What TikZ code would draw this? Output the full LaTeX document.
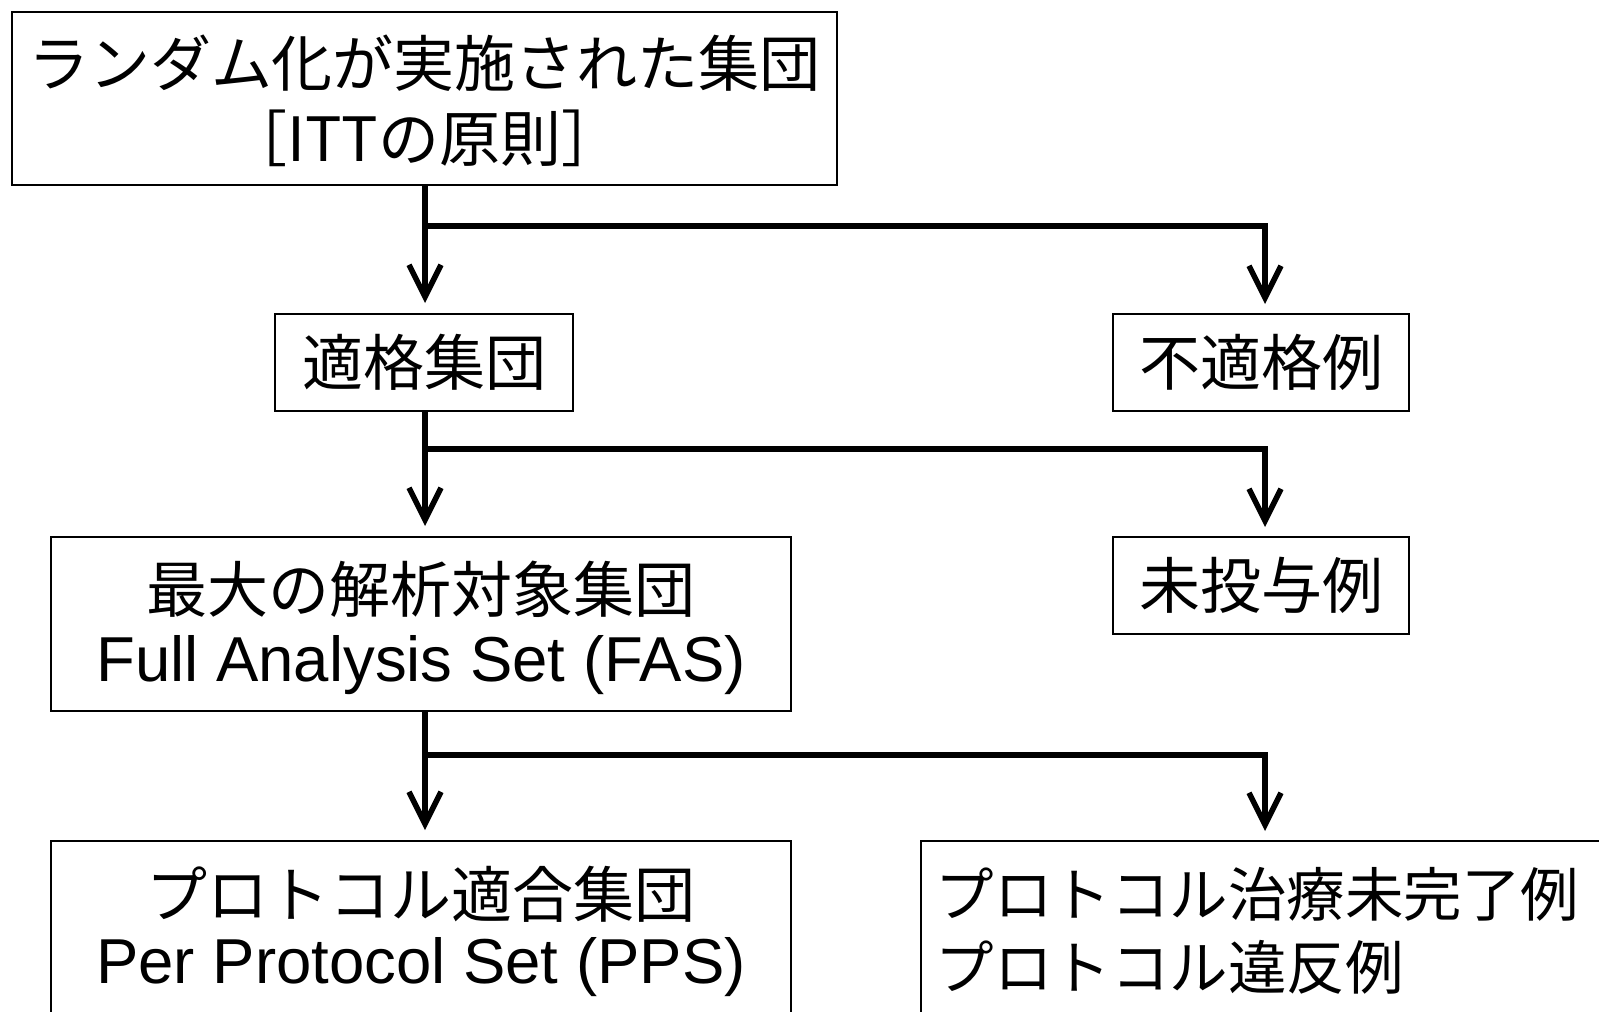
\documentclass[tikz,border=0pt]{standalone}
\usepackage{fontspec}
\setmainfont{Liberation Sans}
\newfontfamily\jp{Noto Sans CJK JP}
\usetikzlibrary{arrows.meta}
\begin{document}
\begin{tikzpicture}[x=1pt,y=-1pt,
  box/.style={draw=black,line width=2pt,fill=white,inner sep=0pt,align=center},
  arr/.style={line width=5.5pt,-{Straight Barb[length=32pt,width=32pt,line width=5.5pt]},shorten >=10pt},
  jt/.style={font=\jp\fontsize{61}{75}\selectfont},
  jts/.style={font=\jp\fontsize{58.5}{75}\selectfont},
  lt/.style={font=\fontsize{63.5}{75}\selectfont}]
\useasboundingbox (0,0) rectangle (1599,1012);
\clip (0,0) rectangle (1599,1012);
\fill[white] (0,0) rectangle (1599,1012);
% boxes
\node[box,minimum width=825pt,minimum height=173pt] (top) at (424.5,98.5) {};
\node[jt] (t1) at (424.5,63) {ランダム化が実施された集団};
\node[jt] (t2) at (424.5,138) {［ITTの原則］};
\node[box,jt,minimum width=298pt,minimum height=97pt] (tek) at (424,362.5) {適格集団};
\node[box,jt,minimum width=296pt,minimum height=97pt] (futek) at (1261,362.5) {不適格例};
\node[box,minimum width=740pt,minimum height=174pt] (fas) at (421,624) {};
\node[jt] (f1) at (421,589) {最大の解析対象集団};
\node[lt] (f2) at (421,665) {Full Analysis Set (FAS)};
\node[box,jt,minimum width=296pt,minimum height=97pt] (mit) at (1261,585.5) {未投与例};
\node[box,minimum width=740pt,minimum height=200pt] (pps) at (421,941) {};
\node[jt] (p1) at (421,894) {プロトコル適合集団};
\node[lt] (p2) at (421,967) {Per Protocol Set (PPS)};
\node[box,minimum width=740pt,minimum height=200pt] (oth) at (1291,941) {};
\node[jts,anchor=west] (o1) at (932,894) {プロトコル治療未完了例};
\node[jts,anchor=west] (o2) at (932,967) {プロトコル違反例};
% connectors
\coordinate (s1) at (425,185);
\coordinate (b1) at (425,226);
\coordinate (s2) at (425,411);
\coordinate (b2) at (425,449);
\coordinate (s3) at (425,711);
\coordinate (b3) at (425,755);
\draw[arr] (s1) -- (s1 |- tek.north);
\draw[arr] (b1) -| (1265,314);
\draw[arr] (s2) -- (s2 |- fas.north);
\draw[arr] (b2) -| (1265,537);
\draw[arr] (s3) -- (s3 |- pps.north);
\draw[arr] (b3) -| (1265,841);
\end{tikzpicture}
\end{document}
